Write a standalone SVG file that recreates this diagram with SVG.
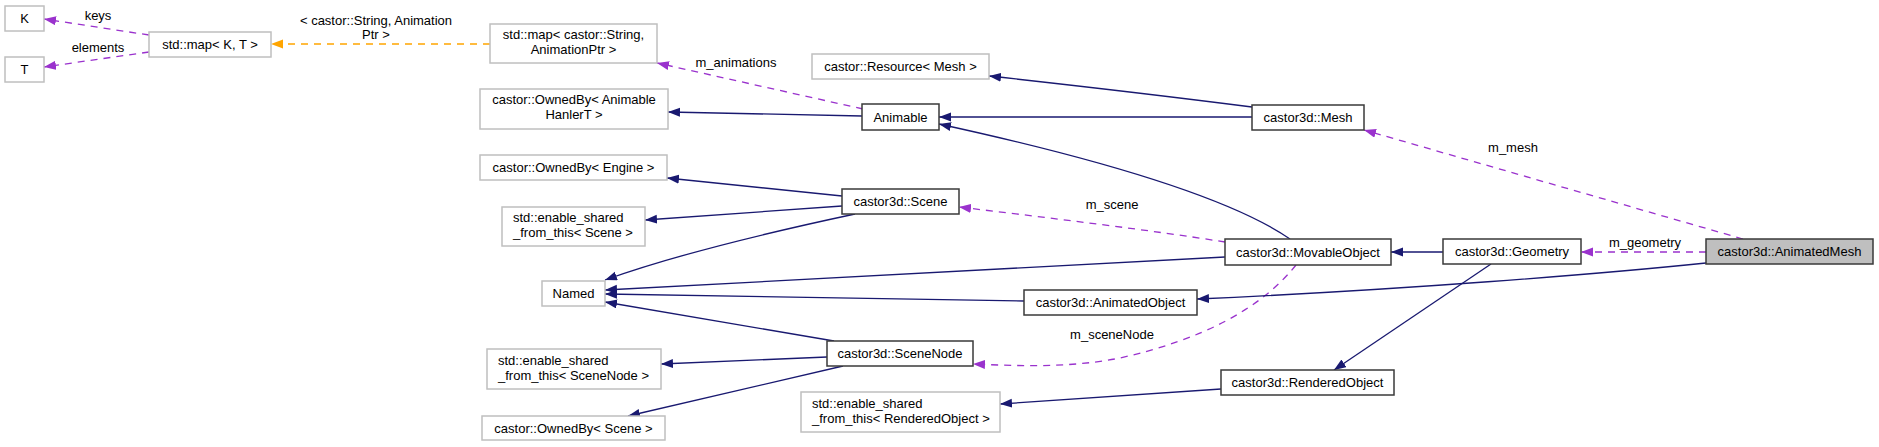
<svg xmlns="http://www.w3.org/2000/svg" width="1879" height="447" viewBox="0 0 1879 447">
<style>
text{font-family:"Liberation Sans",Arial,sans-serif;font-size:13px;fill:#000}
.n rect{fill:#fff;stroke:#bfbfbf;stroke-width:1.5}
.d rect{fill:#fff;stroke:#3a3a3a;stroke-width:1.5}
.c rect{fill:#bfbfbf;stroke:#3a3a3a;stroke-width:1.5}
.m{text-anchor:middle}
.inh{fill:none;stroke:#191970;stroke-width:1.3;marker-end:url(#ab)}
.use{fill:none;stroke:#9a32cd;stroke-width:1.3;stroke-dasharray:7,6;marker-end:url(#ap)}
.tpl{fill:none;stroke:#ffa500;stroke-width:1.3;stroke-dasharray:7,6;marker-end:url(#ao)}
</style>
<defs>
<marker id="ab" markerUnits="userSpaceOnUse" markerWidth="13" markerHeight="10" refX="12" refY="4.5" orient="auto"><path d="M0,0 L12,4.5 L0,9 z" fill="#191970"/></marker>
<marker id="ap" markerUnits="userSpaceOnUse" markerWidth="13" markerHeight="10" refX="12" refY="4.5" orient="auto"><path d="M0,0 L12,4.5 L0,9 z" fill="#9a32cd"/></marker>
<marker id="ao" markerUnits="userSpaceOnUse" markerWidth="13" markerHeight="10" refX="12" refY="4.5" orient="auto"><path d="M0,0 L12,4.5 L0,9 z" fill="#ffa500"/></marker>
</defs>
<rect width="1879" height="447" fill="#fff"/>
<g id="edges">
<path class="use" d="M149,35 L44,19"/>
<path class="use" d="M149,52 L44,67"/>
<path class="tpl" d="M490,44 L271,44"/>
<path class="use" d="M863,109 L657,63"/>
<path class="inh" d="M1252,107 C1150,94 1080,86 989,76"/>
<path class="inh" d="M1252,117 L939,117"/>
<path class="inh" d="M862,116 L668,112"/>
<path class="inh" d="M1290,239 C1245,208 1150,170 939,124"/>
<path class="inh" d="M842,196 L667,178"/>
<path class="inh" d="M842,206 L645,220"/>
<path class="inh" d="M855,214 C780,230 680,253 605,280"/>
<path class="inh" d="M1225,257 L605,290"/>
<path class="inh" d="M1024,301 L605,294"/>
<path class="inh" d="M834,341 L605,302"/>
<path class="inh" d="M827,357 L661,364"/>
<path class="inh" d="M843,366 L628,416"/>
<path class="use" d="M1225,242 C1150,230 1050,218 959,207"/>
<path class="use" d="M1296,265 C1260,310 1200,340 1120,358 C1070,368 1020,366 973,364"/>
<path class="inh" d="M1443,252 L1391,252"/>
<path class="inh" d="M1491,264 L1334,370"/>
<path class="inh" d="M1706,263 C1600,274 1400,290 1197,299"/>
<path class="inh" d="M1221,389 L1000,404"/>
<path class="use" d="M1743,239 L1364,130"/>
<path class="use" d="M1706,252 L1581,252"/>
<text x="98" y="20" class="m">keys</text>
<text x="98" y="52" class="m">elements</text>
<text x="376" y="25" class="m">&lt; castor::String, Animation</text>
<text x="376" y="39" class="m">Ptr &gt;</text>
<text x="736" y="67" class="m">m_animations</text>
<text x="1112" y="209" class="m">m_scene</text>
<text x="1112" y="339" class="m">m_sceneNode</text>
<text x="1513" y="152" class="m">m_mesh</text>
<text x="1645" y="247" class="m">m_geometry</text>
</g>
<g id="K" class="n"><rect x="5" y="6" width="39" height="25"/><text x="24.5" y="23" class="m">K</text></g>
<g id="T" class="n"><rect x="5" y="57" width="39" height="25"/><text x="24.5" y="74" class="m">T</text></g>
<g id="mapKT" class="n"><rect x="149" y="32" width="122" height="25"/><text x="210" y="49" class="m">std::map&lt; K, T &gt;</text></g>
<g id="mapString" class="n"><rect x="490" y="24" width="167" height="39"/><text x="573.5" y="39" class="m">std::map&lt; castor::String,</text><text x="573.5" y="54" class="m">AnimationPtr &gt;</text></g>
<g id="ResourceMesh" class="n"><rect x="812" y="54" width="177" height="25"/><text x="900.5" y="71" class="m">castor::Resource&lt; Mesh &gt;</text></g>
<g id="OwnedByAnimable" class="n"><rect x="480" y="89" width="188" height="40"/><text x="574" y="104" class="m">castor::OwnedBy&lt; Animable</text><text x="574" y="119" class="m">HanlerT &gt;</text></g>
<g id="Animable" class="d"><rect x="862" y="104" width="77" height="26"/><text x="900.5" y="121.5" class="m">Animable</text></g>
<g id="Mesh" class="d"><rect x="1252" y="105" width="112" height="25"/><text x="1308" y="122" class="m">castor3d::Mesh</text></g>
<g id="OwnedByEngine" class="n"><rect x="480" y="155" width="187" height="25"/><text x="573.5" y="172" class="m">castor::OwnedBy&lt; Engine &gt;</text></g>
<g id="Scene" class="d"><rect x="842" y="189" width="117" height="25"/><text x="900.5" y="206" class="m">castor3d::Scene</text></g>
<g id="EnableSharedScene" class="n"><rect x="502" y="207" width="143" height="39"/><text x="513" y="222">std::enable_shared</text><text x="513" y="237">_from_this&lt; Scene &gt;</text></g>
<g id="Named" class="n"><rect x="542" y="281" width="63" height="25"/><text x="573.5" y="298" class="m">Named</text></g>
<g id="MovableObject" class="d"><rect x="1225" y="239" width="166" height="26"/><text x="1308" y="256.5" class="m">castor3d::MovableObject</text></g>
<g id="Geometry" class="d"><rect x="1443" y="239" width="138" height="25"/><text x="1512" y="256" class="m">castor3d::Geometry</text></g>
<g id="AnimatedMesh" class="c"><rect x="1706" y="239" width="167" height="25"/><text x="1789.5" y="256" class="m">castor3d::AnimatedMesh</text></g>
<g id="AnimatedObject" class="d"><rect x="1024" y="290" width="173" height="25"/><text x="1110.5" y="307" class="m">castor3d::AnimatedObject</text></g>
<g id="SceneNode" class="d"><rect x="827" y="341" width="146" height="25"/><text x="900" y="358" class="m">castor3d::SceneNode</text></g>
<g id="EnableSharedSceneNode" class="n"><rect x="487" y="349" width="174" height="40"/><text x="498" y="365">std::enable_shared</text><text x="498" y="380">_from_this&lt; SceneNode &gt;</text></g>
<g id="OwnedByScene" class="n"><rect x="482" y="416" width="183" height="24"/><text x="573.5" y="432.5" class="m">castor::OwnedBy&lt; Scene &gt;</text></g>
<g id="RenderedObject" class="d"><rect x="1221" y="370" width="173" height="25"/><text x="1307.5" y="387" class="m">castor3d::RenderedObject</text></g>
<g id="EnableSharedRenderedObject" class="n"><rect x="801" y="392" width="199" height="40"/><text x="812" y="408">std::enable_shared</text><text x="812" y="423">_from_this&lt; RenderedObject &gt;</text></g>
</svg>
